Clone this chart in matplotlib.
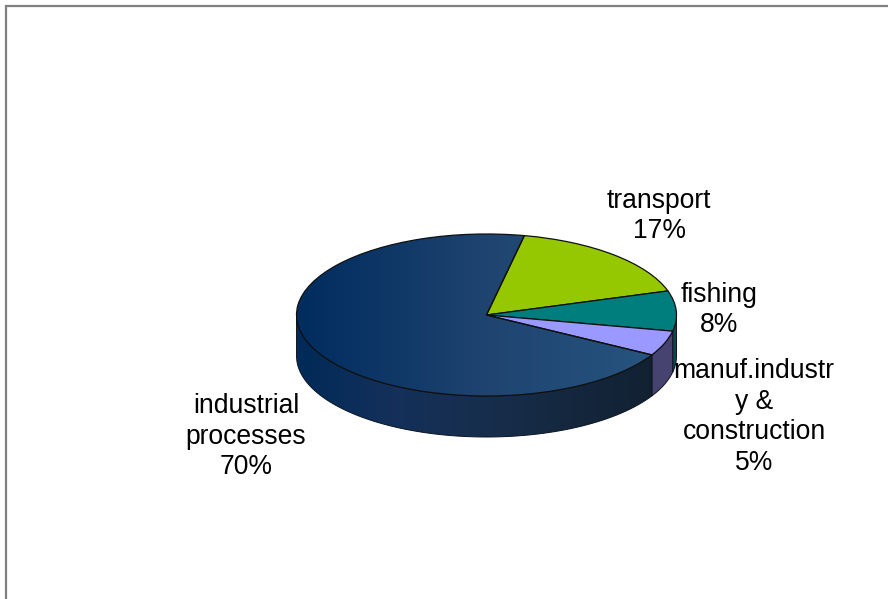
import numpy as np
import matplotlib
matplotlib.use('Agg')
import matplotlib.pyplot as plt
from matplotlib.colors import LinearSegmentedColormap
from matplotlib.patches import Polygon
from matplotlib.transforms import Affine2D

# data, counter clockwise from the top edge of the transport slice going right is negative
categories = ['transport', 'fishing', 'manuf.industr\ny &\nconstruction', 'industrial\nprocesses']
shares = [17, 8, 5, 70]
top_colors = ['#96C800', '#007D7D', '#9999FF', '#1F4470']
wall_colors = ['#4B7000', '#004B4F', '#474370', '#14283F']
top_gradient = ['#002C5E', '#1F4470', '#285682']
wall_gradient = ['#002A58', '#14305A', '#172E4C', '#14263C', '#12202F']

plt.rcParams['font.family'] = ['Liberation Sans', 'DejaVu Sans']

W, H = 888, 599
cx, cy = 486.5, H - 315
rx, ry = 190, 81
depth = 41

fig = plt.figure(figsize=(W / 100, H / 100), dpi=100)
ax = fig.add_axes([0, 0, 1, 1])
ax.set_xlim(0, W)
ax.set_ylim(0, H)
ax.axis('off')

# outer frame, only left and top show
ax.plot([6, 6, W], [0, H - 6, H - 6], color='#808080', lw=1.6, solid_joinstyle='miter')

start = 78.5
fractions = np.array(shares) / sum(shares)
edges = start - np.concatenate([[0], np.cumsum(fractions) * 360])


def make_gradient(colors):
    return LinearSegmentedColormap.from_list('g', colors)


# side wall, only the front half of the ellipse
for i in range(len(shares)):
    a0, a1 = edges[i + 1], edges[i]
    # bring it to the range that is facing the viewer
    lo = max(a0, -180)
    hi = min(a1, 0)
    if hi <= lo:
        continue
    t = np.radians(np.linspace(lo, hi, 80))
    xs = cx + rx * np.cos(t)
    ys = cy + ry * np.sin(t)
    pts = np.vstack([np.column_stack([xs, ys]),
                     np.column_stack([xs[::-1], ys[::-1] - depth])])
    if i == 3:
        poly = Polygon(pts, closed=True, facecolor='none', edgecolor='none', zorder=1)
        ax.add_patch(poly)
        im = ax.imshow(np.linspace(0, 1, 256)[None, :], cmap=make_gradient(wall_gradient),
                       extent=[cx - rx, cx + rx, cy - ry - depth, cy], aspect='auto', zorder=1)
        im.set_clip_path(poly)
        outline = Polygon(pts, closed=True, facecolor='none', edgecolor='#0A1420', lw=0.7, zorder=2)
        ax.add_patch(outline)
    else:
        ax.add_patch(Polygon(pts, closed=True, facecolor=wall_colors[i], edgecolor='#111122',
                             lw=0.7, zorder=2))

# top of the pie, a unit pie squashed to an ellipse
wedges, _ = ax.pie(shares, colors=top_colors, startangle=start, counterclock=False,
                   wedgeprops={'edgecolor': '#101010', 'linewidth': 0.9})
squash = Affine2D().scale(rx, ry).translate(cx, cy) + ax.transData
for w in wedges:
    w.set_transform(squash)
    w.set_zorder(3)
    w.set_clip_on(False)

# pie() changes limits and aspect, set them back
ax.set_aspect('auto')
ax.set_xlim(0, W)
ax.set_ylim(0, H)

# gradient on the big slice
w = wedges[3]
w.set_facecolor('none')
im = ax.imshow(np.linspace(0, 1, 256)[None, :], cmap=make_gradient(top_gradient),
               extent=[cx - rx, cx + rx, cy - ry, cy + ry], aspect='auto', zorder=2.5)
im.set_clip_path(w)
ax.set_xlim(0, W)
ax.set_ylim(0, H)

# labels
label_pos = [(659, 216), (719, 310), (754, 417), (246, 436.5)]
for name, share, (lx, ly) in zip(categories, shares, label_pos):
    ax.text(lx, H - ly, f'{name}\n{share}%', ha='center', va='center', fontsize=19.1,
            linespacing=1.22, color='black', zorder=5)

fig.savefig('out.png', dpi=100)
